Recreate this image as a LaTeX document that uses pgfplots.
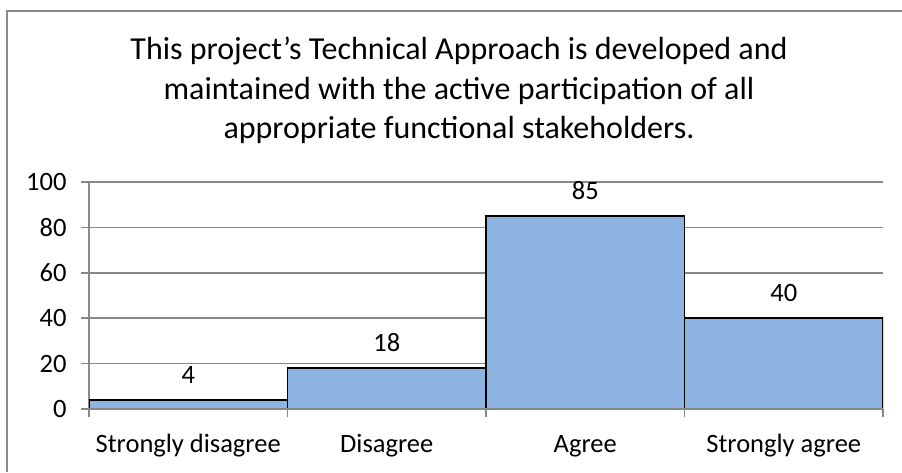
\documentclass[border=0pt]{standalone}
\usepackage{fontspec}
\setmainfont{Carlito}
\usepackage{pgfplots}
\pgfplotsset{compat=1.18}
\definecolor{barfill}{HTML}{8EB4E3}
\definecolor{linegray}{HTML}{888888}
\begin{document}
\begin{tikzpicture}[x=1pt,y=1pt]
\useasboundingbox (0,0) rectangle (902,472);
\draw[linegray, line width=2pt] (7,0) -- (7,461) -- (902,461);
\node[align=center, font=\fontsize{32}{39.5}\selectfont, anchor=base] at (459,333) {This project’s Technical Approach is developed and\\ maintained with the active participation of all\\ appropriate functional stakeholders.};
\begin{axis}[
  at={(89pt,63pt)}, anchor=south west,
  scale only axis, width=794pt, height=227pt,
  xmin=-0.5, xmax=3.5, ymin=0, ymax=100,
  axis x line*=bottom, axis y line*=left,
  axis line style={linegray, line width=1.5pt},
  ytick={0,20,...,100},
  ymajorgrids, grid style={linegray, line width=1.5pt},
  xtick={0,1,2,3},
  xticklabels={Strongly disagree,Disagree,Agree,Strongly agree},
  minor xtick={-0.5,0.5,1.5,2.5,3.5},
  major x tick style={draw=none},
  minor x tick style={linegray, line width=1.5pt},
  minor tick length=8pt,
  major tick length=8pt,
  tick align=outside,
  y tick style={linegray, line width=1.5pt},
  ticklabel style={font=\fontsize{26.5}{30}\selectfont},
  /pgf/number format/assume math mode=true,
  xticklabel style={yshift=-14pt, text height=18pt, text depth=6pt},
  yticklabel style={xshift=-11pt},
  ybar, bar width=1, bar shift=0pt,
  nodes near coords,
  nodes near coords style={font=\fontsize{26.5}{30}\selectfont, inner sep=0pt, anchor=south, yshift=16pt, text=black},
]
\addplot[fill=barfill, draw=black, line width=1.5pt] coordinates {(0,4) (1,18) (2,85) (3,40)};
\draw[linegray, line width=1.5pt] (axis cs:-0.5,0) -- (axis cs:3.5,0);
\end{axis}
\end{tikzpicture}
\end{document}
